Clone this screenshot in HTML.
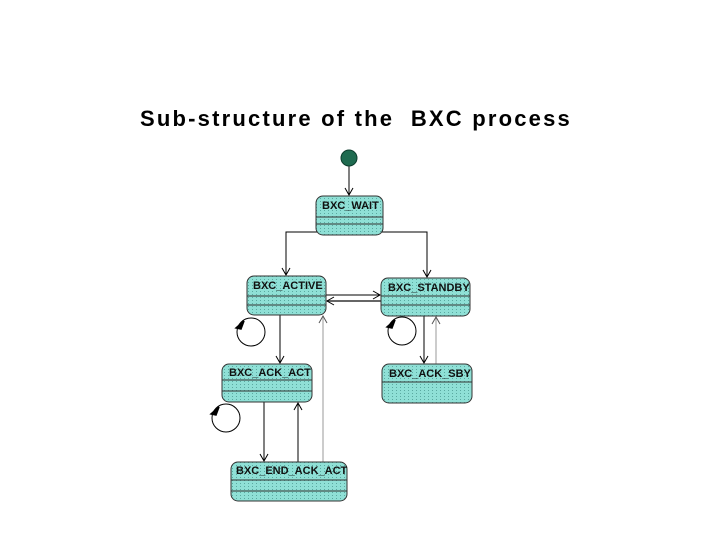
<!DOCTYPE html>
<html><head><style>
body{margin:0;width:720px;height:540px;background:#fff;overflow:hidden;position:relative;font-family:"Liberation Sans",sans-serif}
.t{position:absolute;left:140px;top:106px;font-size:22px;font-weight:bold;white-space:pre;letter-spacing:2.2px}
</style></head><body>
<div class="t">Sub-structure of the  BXC process</div>
<svg width="720" height="540" style="position:absolute;left:0;top:0" font-family="Liberation Sans, sans-serif">
<defs>
<pattern id="d" width="4" height="3" patternUnits="userSpaceOnUse"><rect width="4" height="3" fill="#8fe0d6"/><rect width="1" height="1" fill="#5aa9a0"/></pattern>
<marker id="a" markerWidth="10" markerHeight="10" refX="8" refY="5" orient="auto" markerUnits="userSpaceOnUse"><path d="M1,1 L8,5 L1,9" fill="none" stroke="#000" stroke-width="1"/></marker>
<marker id="g" markerWidth="10" markerHeight="10" refX="8" refY="5" orient="auto" markerUnits="userSpaceOnUse"><path d="M1,1 L8,5 L1,9" fill="none" stroke="#555" stroke-width="1"/></marker>
</defs>
<g stroke-width="1" fill="none">
<line x1="349" y1="166" x2="349" y2="195" stroke="#000" marker-end="url(#a)"/>
<polyline points="286,275 286,232 427,232 427,277" stroke="#000"/>
<line x1="286" y1="262" x2="286" y2="275" stroke="#000" marker-end="url(#a)"/>
<line x1="427" y1="262" x2="427" y2="277" stroke="#000" marker-end="url(#a)"/>
<line x1="326" y1="295" x2="380" y2="295" stroke="#000" marker-end="url(#a)"/>
<line x1="381" y1="301" x2="327" y2="301" stroke="#333" stroke-width="1.5" marker-end="url(#a)"/>
<line x1="280" y1="315" x2="280" y2="363" stroke="#000" marker-end="url(#a)"/>
<line x1="323" y1="462" x2="323" y2="316" stroke="#bbb" stroke-width="1.5" marker-end="url(#g)"/>
<line x1="264" y1="402" x2="264" y2="461" stroke="#000" marker-end="url(#a)"/>
<line x1="298" y1="462" x2="298" y2="403" stroke="#000" marker-end="url(#a)"/>
<line x1="424" y1="316" x2="424" y2="363" stroke="#000" marker-end="url(#a)"/>
<line x1="436" y1="364" x2="436" y2="317" stroke="#999" marker-end="url(#g)"/>
<circle cx="251" cy="332" r="14" stroke="#000"/>
<circle cx="402" cy="331" r="14" stroke="#000"/>
<circle cx="226" cy="418" r="14" stroke="#000"/>
</g>
<path d="M236,328 l8,-7 l-3,8 z M387,327 l8,-7 l-3,8 z M211,414 l8,-7 l-3,8 z" fill="#000" stroke="#000" stroke-width="1.5"/>
<circle cx="349" cy="158" r="8" fill="#1f6b50" stroke="#0d3d2d"/>
<g stroke="#333" stroke-width="1">
<rect x="316" y="196" width="67" height="39" rx="7" fill="url(#d)"/>
<line x1="316" y1="217" x2="383" y2="217"/><line x1="316" y1="224" x2="383" y2="224"/>
<rect x="247" y="276" width="79" height="39" rx="7" fill="url(#d)"/>
<line x1="247" y1="296" x2="326" y2="296"/><line x1="247" y1="305" x2="326" y2="305"/>
<rect x="381" y="278" width="89" height="38" rx="7" fill="url(#d)"/>
<line x1="381" y1="296" x2="470" y2="296"/><line x1="381" y1="305" x2="470" y2="305"/>
<rect x="222" y="364" width="90" height="38" rx="7" fill="url(#d)"/>
<line x1="222" y1="380" x2="312" y2="380"/><line x1="222" y1="391" x2="312" y2="391"/>
<rect x="382" y="364" width="90" height="39" rx="7" fill="url(#d)"/>
<line x1="382" y1="382" x2="472" y2="382"/>
<rect x="231" y="462" width="116" height="39" rx="7" fill="url(#d)"/>
<line x1="231" y1="480" x2="347" y2="480"/><line x1="231" y1="491" x2="347" y2="491"/>
</g>
<g font-size="11" font-weight="bold" fill="#111">
<text x="322" y="209">BXC_WAIT</text>
<text x="253" y="289">BXC_ACTIVE</text>
<text x="388" y="291">BXC_STANDBY</text>
<text x="229" y="376">BXC_ACK_ACT</text>
<text x="389" y="377">BXC_ACK_SBY</text>
<text x="236" y="474">BXC_END_ACK_ACT</text>
</g>
</svg>
</body></html>
